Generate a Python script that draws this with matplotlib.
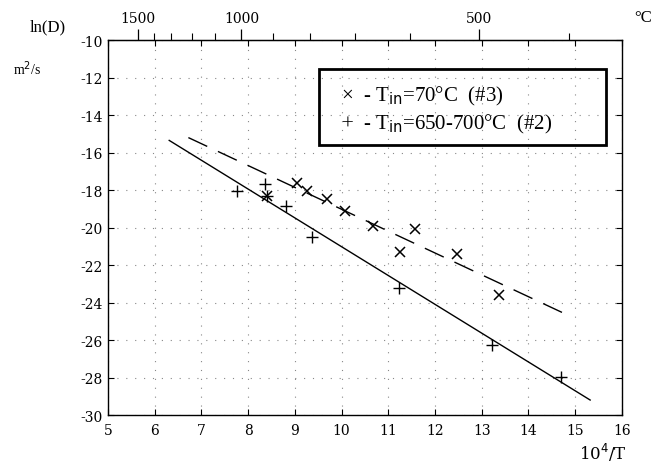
import matplotlib
matplotlib.use("Agg")
import matplotlib.pyplot as plt
from matplotlib.patches import Rectangle
import numpy as np

plt.rcParams["axes.unicode_minus"] = False

# 10^4/T and ln(D) read per sample series
x_70 = [9.04, 9.25, 9.69, 10.07, 10.68, 11.57, 11.24, 12.46, 13.37, 8.40]
y_70 = [-17.6, -18.05, -18.5, -19.1, -19.9, -20.05, -21.3, -21.4, -23.6, -18.3]

x_650 = [7.76, 8.37, 8.40, 8.81, 9.37, 11.22, 13.21, 14.69]
y_650 = [-18.05, -17.65, -18.3, -18.85, -20.5, -23.2, -26.25, -27.95]

# fitted lines (end points)
fit_650_x = [6.31, 15.32]
fit_650_y = [-15.35, -29.2]
fit_70_x = [6.72, 14.91]
fit_70_y = [-15.2, -24.75]

celsius_major = [1500, 1000, 500]
celsius_minor = [1400, 1300, 1200, 1100, 900, 800, 700, 600, 400]

serif = "DejaVu Serif"
times = "Liberation Serif"

fig = plt.figure(figsize=(6.53, 4.64), dpi=100)
ax = fig.add_axes([0.1654, 0.1034, 0.787, 0.808])

ax.plot(fit_650_x, fit_650_y, color="black", lw=1.0)
ax.plot(fit_70_x, fit_70_y, color="black", lw=1.0, dashes=(15, 8.5))

ax.plot(x_70, y_70, "x", color="black", ms=7, mew=1.1)
ax.plot(x_650, y_650, "+", color="black", ms=8, mew=1.0)

ax.set_xlim(5, 16)
ax.set_ylim(-30, -10)
ax.set_xticks(np.arange(5, 17, 1))
ax.set_yticks(np.arange(-30, -9, 2))
ax.grid(True, color="#888888", linestyle=(0, (1, 7)), lw=0.8)
ax.tick_params(direction="in", top=True, right=True, length=4, width=0.8,
               labelsize=10)
ax.tick_params(axis="x", pad=6)
ax.tick_params(axis="y", pad=4)
for lab in ax.get_xticklabels() + ax.get_yticklabels():
    lab.set_fontfamily(serif)
for sp in ax.spines.values():
    sp.set_linewidth(1.0)

# Celsius scale on top
sec = ax.secondary_xaxis("top", functions=(lambda x: 1e4 / x - 273,
                                           lambda c: 1e4 / (c + 273)))
sec.set_xticks(celsius_major)
sec.set_xticks(celsius_minor, minor=True)
sec.tick_params(which="major", direction="out", length=8, width=0.9,
                labelsize=10, pad=3)
sec.tick_params(which="minor", direction="out", length=5, width=0.8)
for lab in sec.get_xticklabels():
    lab.set_fontfamily(serif)

# legend box
ax.add_patch(Rectangle((9.52, -15.58), 6.13, 4.04, fill=False, lw=2.0,
                       edgecolor="black", zorder=5))
ax.text(9.98, -12.98, "×  - T$_{\\rm in}$=70°C  (#3)", fontsize=15,
        family=times, va="center", zorder=6)
ax.text(9.98, -14.47, "+  - T$_{\\rm in}$=650-700°C  (#2)", fontsize=15,
        family=times, va="center", zorder=6)

fig.text(0.073, 0.942, "ln(D)", fontsize=12, family=times, ha="center",
         va="center")
fig.text(0.041, 0.853, "m$^2$/s", fontsize=10, family=times, ha="center",
         va="center")
fig.text(0.985, 0.962, "°C", fontsize=12, family=times, ha="center",
         va="center")
fig.text(0.923, 0.024, "10$^4$/T", fontsize=12, family=serif, ha="center",
         va="center")

fig.savefig("out.png", dpi=100)
